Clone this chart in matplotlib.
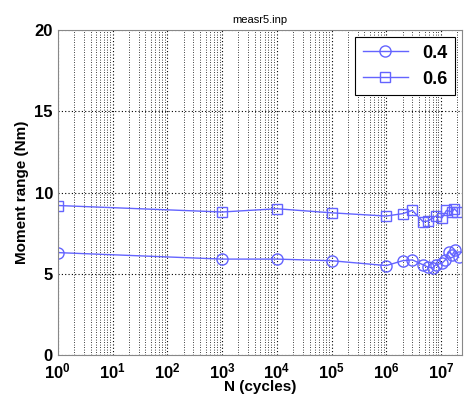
import matplotlib
matplotlib.use('Agg')
import matplotlib.pyplot as plt
from matplotlib.ticker import LogLocator, NullFormatter

# data
n_04 = [1, 1e3, 1e4, 1e5, 1e6, 2e6, 3e6, 4.7e6, 5.8e6, 7e6, 8e6, 1.05e7, 1.2e7, 1.4e7, 1.6e7, 1.8e7, 2.1e7]
m_04 = [6.3, 5.9, 5.9, 5.8, 5.5, 5.8, 5.85, 5.55, 5.4, 5.35, 5.55, 5.65, 5.85, 6.35, 6.15, 6.45, 6.0]
n_06 = [1, 1e3, 1e4, 1e5, 1e6, 2e6, 3e6, 4.7e6, 5.8e6, 8e6, 1.05e7, 1.26e7, 1.6e7, 1.75e7, 2.0e7]
m_06 = [9.2, 8.8, 9.0, 8.75, 8.55, 8.7, 8.9, 8.2, 8.25, 8.55, 8.45, 8.9, 8.8, 9.0, 8.8]
labels = ['0.4', '0.6']

plt.rcParams['font.family'] = ['Liberation Sans', 'DejaVu Sans']

fig = plt.figure(figsize=(4.66, 4.07), dpi=100, facecolor='white')
ax = fig.add_axes([0.124, 0.128, 0.867, 0.798])

col = '#6464ff'
ax.plot(n_04, m_04, '-o', color=col, mfc='none', mec=col, ms=8, lw=1, mew=1, label=labels[0])
ax.plot(n_06, m_06, '-s', color=col, mfc='none', mec=col, ms=7, lw=1, mew=1, label=labels[1])

ax.set_xscale('log')
ax.set_xlim(1, 2.4e7)
ax.set_ylim(0, 20)
ax.set_yticks([0, 5, 10, 15, 20])
ax.xaxis.set_major_locator(LogLocator(base=10, numticks=10))
ax.xaxis.set_minor_locator(LogLocator(base=10, subs=range(2, 10), numticks=100))
ax.xaxis.set_minor_formatter(NullFormatter())

ax.grid(True, which='major', color='black', linestyle=(0, (1, 2)), lw=0.8)
ax.grid(True, which='minor', axis='x', color='black', linestyle=(0, (1, 2)), lw=0.6)
ax.tick_params(which='both', length=0, labelsize=12)
ax.tick_params(axis='x', pad=5)
for t in ax.get_xticklabels() + ax.get_yticklabels():
    t.set_fontweight('bold')
for s in ax.spines.values():
    s.set_color('#888888')

ax.set_xlabel('N (cycles)', fontsize=11, fontweight='bold', labelpad=-1)
ax.set_ylabel('Moment range (Nm)', fontsize=11, fontweight='bold')
ax.set_title('measr5.inp', fontsize=8, pad=5)

leg = ax.legend(loc='upper right', prop={'weight': 'bold', 'size': 13}, fancybox=False,
                edgecolor='black', framealpha=1, handlelength=2.5, borderaxespad=0.4)
leg.get_frame().set_linewidth(0.8)

fig.savefig('out.png', dpi=100)
